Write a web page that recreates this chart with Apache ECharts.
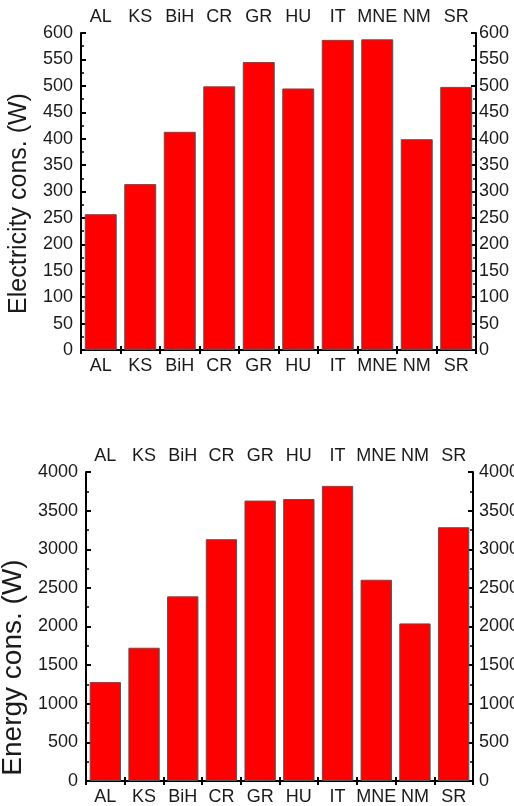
<!DOCTYPE html>
<html><head><meta charset="utf-8">
<script src="https://cdn.jsdelivr.net/npm/echarts@6/dist/echarts.min.js"></script>
<style>html,body{margin:0;padding:0;background:#fff}#c{width:514px;height:806px}</style>
</head><body><div id="c"></div>
<script>
const countries = ['AL','KS','BiH','CR','GR','HU','IT','MNE','NM','SR'];
const electricity = [257,314,413,499,545,495,587,588,399,498];
const energy = [1280,1725,2390,3130,3630,3650,3820,2605,2040,3285];
const elecTicks = {min:0, max:600, interval:50};
const energyTicks = {min:0, max:4000, interval:500};

const FONT = '"Liberation Sans", Arial, sans-serif';
const TXT = '#1a1a1a';
const line = {show:true, lineStyle:{color:'#000', width:2}};

function xAxis(grid, pos, margin){
  return {type:'category', gridIndex:grid, position:pos, data:countries, boundaryGap:true,
    axisLine:line, axisTick:{show:true, inside:true, length:4, interval:0, lineStyle:{color:'#000', width:2}},
    axisLabel:{show:true, interval:0, margin:margin, fontSize:18, color:TXT, fontFamily:FONT}};
}
function yAxis(grid, pos, t, name, nameGap, margin, nameSize, shift){
  return {type:'value', gridIndex:grid, position:pos, min:t.min, max:t.max, interval:t.interval,
    name:name, nameLocation:'middle', nameGap:nameGap,
    nameTextStyle:{fontSize:nameSize, color:TXT, fontFamily:FONT, padding:[0, shift, 0, 0]},
    splitLine:{show:false},
    axisLine:line, axisTick:{show:true, inside:true, length:5, lineStyle:{color:'#000', width:2}},
    minorTick:{show:true, splitNumber:2, length:3, lineStyle:{color:'#000', width:1.5}},
    axisLabel:{show:true, margin:margin, fontSize:18, color:TXT, fontFamily:FONT,
      formatter:function(v){return String(v);}}};
}

const chart = echarts.init(document.getElementById('c'));
chart.setOption({
  animation:false,
  backgroundColor:'#fff',
  grid:[
    {left:81, top:33, width:395, height:317, outerBoundsMode:'none', containLabel:false},
    {left:86, top:472, width:387, height:309, outerBoundsMode:'none', containLabel:false}
  ],
  xAxis:[
    xAxis(0,'bottom',7), xAxis(0,'top',7),
    xAxis(1,'bottom',7), xAxis(1,'top',7)
  ],
  yAxis:[
    yAxis(0,'left',elecTicks,'Electricity cons. (W)',39,8,25,24),
    yAxis(0,'right',elecTicks,'',0,3,25,0),
    yAxis(1,'left',energyTicks,'Energy cons. (W)',45,8,28,82),
    yAxis(1,'right',energyTicks,'',0,6,28,0)
  ],
  series:[
    {type:'bar', xAxisIndex:0, yAxisIndex:0, data:electricity, barCategoryGap:'19%',
     itemStyle:{color:'#ff0000', borderColor:'#555', borderWidth:1}},
    {type:'bar', xAxisIndex:2, yAxisIndex:2, data:energy, barCategoryGap:'19%',
     itemStyle:{color:'#ff0000', borderColor:'#555', borderWidth:1}}
  ]
});
</script></body></html>
